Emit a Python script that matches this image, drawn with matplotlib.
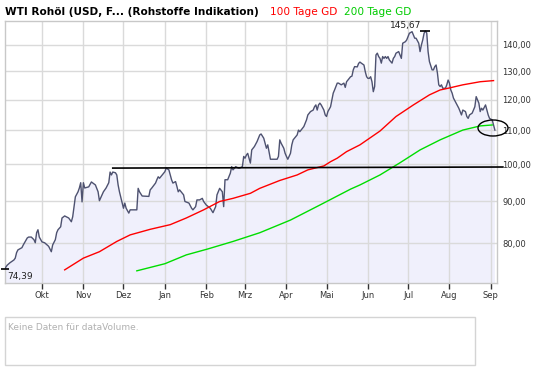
import matplotlib
matplotlib.use('Agg')
import matplotlib.pyplot as plt
from matplotlib.patches import Ellipse, Rectangle
from matplotlib.ticker import FixedLocator, FuncFormatter, NullLocator
import pandas as pd

# WTI price (daily-ish readings)
price_dates = [
    '2007-09-03', '2007-09-05', '2007-09-07', '2007-09-10', '2007-09-11', '2007-09-12',
    '2007-09-13', '2007-09-16', '2007-09-17', '2007-09-20', '2007-09-21', '2007-09-23',
    '2007-09-25', '2007-09-26', '2007-09-27', '2007-09-28', '2007-09-29',
    '2007-10-01', '2007-10-03', '2007-10-06', '2007-10-08', '2007-10-09', '2007-10-11',
    '2007-10-12', '2007-10-13', '2007-10-15', '2007-10-16', '2007-10-18', '2007-10-21',
    '2007-10-23', '2007-10-24', '2007-10-25', '2007-10-26', '2007-10-28', '2007-10-29',
    '2007-10-30', '2007-10-31',
    '2007-11-01', '2007-11-02', '2007-11-05', '2007-11-07', '2007-11-10', '2007-11-12',
    '2007-11-13', '2007-11-16', '2007-11-18', '2007-11-20', '2007-11-21', '2007-11-22',
    '2007-11-23', '2007-11-25', '2007-11-26', '2007-11-27', '2007-11-28', '2007-11-30',
    '2007-12-01', '2007-12-02', '2007-12-03', '2007-12-05', '2007-12-06', '2007-12-11',
    '2007-12-12', '2007-12-13', '2007-12-15', '2007-12-20', '2007-12-21', '2007-12-22',
    '2007-12-25', '2007-12-26', '2007-12-27', '2007-12-28', '2007-12-30',
    '2008-01-01', '2008-01-02', '2008-01-04', '2008-01-05', '2008-01-06', '2008-01-07',
    '2008-01-09', '2008-01-10', '2008-01-11', '2008-01-12', '2008-01-15', '2008-01-16',
    '2008-01-19', '2008-01-21', '2008-01-22', '2008-01-24', '2008-01-25', '2008-01-27',
    '2008-01-29', '2008-01-30',
    '2008-02-01', '2008-02-04', '2008-02-06', '2008-02-08', '2008-02-09', '2008-02-11',
    '2008-02-13', '2008-02-14', '2008-02-15', '2008-02-17', '2008-02-19', '2008-02-20',
    '2008-02-21', '2008-02-23', '2008-02-25', '2008-02-26', '2008-02-28', '2008-02-29',
    '2008-03-01', '2008-03-02', '2008-03-03', '2008-03-05', '2008-03-06', '2008-03-08',
    '2008-03-10', '2008-03-12', '2008-03-13', '2008-03-15', '2008-03-16', '2008-03-17',
    '2008-03-18', '2008-03-20', '2008-03-25', '2008-03-26', '2008-03-27', '2008-03-28',
    '2008-03-30', '2008-03-31',
    '2008-04-01', '2008-04-02', '2008-04-04', '2008-04-05', '2008-04-06', '2008-04-09',
    '2008-04-10', '2008-04-11', '2008-04-14', '2008-04-15', '2008-04-16', '2008-04-17',
    '2008-04-19', '2008-04-21', '2008-04-22', '2008-04-23', '2008-04-24', '2008-04-25',
    '2008-04-26', '2008-04-27', '2008-04-29', '2008-04-30',
    '2008-05-01', '2008-05-02', '2008-05-04', '2008-05-05', '2008-05-06', '2008-05-07',
    '2008-05-09', '2008-05-10', '2008-05-11', '2008-05-12', '2008-05-14', '2008-05-15',
    '2008-05-16', '2008-05-17', '2008-05-19', '2008-05-20', '2008-05-21', '2008-05-22',
    '2008-05-24', '2008-05-25', '2008-05-26', '2008-05-27', '2008-05-29', '2008-05-30',
    '2008-05-31',
    '2008-06-01', '2008-06-02', '2008-06-03', '2008-06-04', '2008-06-05', '2008-06-06',
    '2008-06-07', '2008-06-08', '2008-06-09', '2008-06-10', '2008-06-11', '2008-06-12',
    '2008-06-13', '2008-06-14', '2008-06-15', '2008-06-16', '2008-06-17', '2008-06-19',
    '2008-06-20', '2008-06-21', '2008-06-22', '2008-06-24', '2008-06-25', '2008-06-26',
    '2008-06-27', '2008-06-29', '2008-06-30',
    '2008-07-01', '2008-07-02', '2008-07-04', '2008-07-05', '2008-07-06', '2008-07-07',
    '2008-07-09', '2008-07-10', '2008-07-11', '2008-07-12', '2008-07-13', '2008-07-14',
    '2008-07-15', '2008-07-16', '2008-07-17', '2008-07-19', '2008-07-20', '2008-07-21',
    '2008-07-22', '2008-07-23', '2008-07-24', '2008-07-25', '2008-07-26', '2008-07-27',
    '2008-07-29', '2008-07-30', '2008-07-31',
    '2008-08-01', '2008-08-02', '2008-08-03', '2008-08-04', '2008-08-06', '2008-08-08',
    '2008-08-09', '2008-08-10', '2008-08-11', '2008-08-13', '2008-08-14', '2008-08-15',
    '2008-08-16', '2008-08-18', '2008-08-19', '2008-08-20', '2008-08-21', '2008-08-23',
    '2008-08-24', '2008-08-25', '2008-08-26', '2008-08-28', '2008-08-29', '2008-08-30',
    '2008-08-31', '2008-09-02', '2008-09-03', '2008-09-04',
]
price_values = [
    74.39, 75.2, 75.7, 76.3, 76.7, 77.9, 78.5, 79.0, 79.6, 81.2, 81.4, 81.4,
    80.8, 80.1, 82.4, 83.1, 81.4,
    80.3, 80.1, 79.3, 78.1, 79.6, 80.8, 82.4, 83.1, 83.8, 85.9, 86.4, 85.9,
    85.0, 86.2, 88.6, 91.2, 92.5, 93.5, 94.9, 89.9,
    94.9, 93.5, 93.8, 95.1, 94.3, 92.5, 90.2, 92.5, 93.5, 94.9, 97.8, 97.0,
    97.8, 97.6, 97.0, 94.3, 92.5, 89.6,
    88.3, 89.6, 88.3, 87.1, 87.9, 87.9, 93.4, 92.5, 91.4, 91.3, 93.0, 93.4,
    94.8, 95.7, 96.5, 96.1, 97.0,
    97.9, 98.9, 98.4, 97.0, 95.7, 94.8, 95.2, 93.9, 92.5, 93.0, 91.7, 90.0,
    89.6, 88.3, 87.9, 88.7, 90.4, 90.4, 90.8, 90.0,
    89.1, 88.3, 87.2, 88.7, 91.7, 93.4, 92.5, 88.7, 95.7, 95.7, 97.5, 99.3,
    98.4, 99.3, 98.9, 98.9, 99.3, 102.2,
    101.7, 102.6, 103.1, 100.3, 104.1, 105.1, 106.6, 108.6, 108.9, 107.6, 106.1, 104.6,
    105.6, 101.4, 101.4, 102.2, 107.1, 106.1, 104.6, 103.1,
    102.2, 101.4, 103.1, 105.6, 107.1, 108.6, 110.1, 109.6, 111.2, 112.2, 113.3, 114.9,
    116.0, 116.5, 117.6, 118.2, 116.5, 118.2, 118.8, 118.2, 116.5, 114.9,
    114.4, 116.0, 117.6, 119.9, 122.2, 123.3, 125.7, 125.7, 125.4, 125.1, 125.7, 124.2,
    126.2, 126.8, 128.0, 128.2, 130.5, 131.7, 131.6, 132.9, 133.4, 133.0, 132.3, 129.8,
    128.0,
    127.4, 127.4, 128.0, 126.2, 122.7, 124.5, 136.1, 136.8, 135.5, 134.8, 133.0, 135.5,
    134.8, 135.5, 134.8, 135.5, 134.2, 133.0, 134.8, 135.5, 136.8, 137.4, 136.1, 134.8,
    140.7, 141.3, 142.0,
    143.3, 144.7, 145.35, 144.0, 142.7, 142.7, 140.7, 137.4, 140.0, 142.0, 144.7, 145.67,
    144.8, 137.4, 133.6, 130.5, 130.5, 131.7, 132.3, 129.3, 125.1, 124.5, 125.1, 123.9,
    123.9, 125.1, 126.8,
    125.7, 123.3, 122.2, 120.5, 118.8, 117.1, 116.0, 114.9, 116.5, 116.0, 114.4, 113.8,
    114.9, 115.5, 116.5, 117.6, 121.0, 118.8, 116.0, 117.1, 116.5, 118.2, 116.5, 114.9,
    113.8, 113.3, 111.7, 110.1,
]

# 100 day moving average
ma100_dates = ['2007-10-18', '2007-11-01', '2007-11-13', '2007-11-26', '2007-12-06',
               '2007-12-21', '2008-01-05', '2008-01-17', '2008-01-30', '2008-02-11',
               '2008-02-21', '2008-03-05', '2008-03-12', '2008-03-27', '2008-04-09',
               '2008-04-17', '2008-04-29', '2008-05-04', '2008-05-09', '2008-05-16',
               '2008-05-26', '2008-06-10', '2008-06-22', '2008-07-05', '2008-07-17',
               '2008-07-25', '2008-07-31', '2008-08-11', '2008-08-24', '2008-09-03']
ma100_values = [74.2, 76.7, 78.1, 80.4, 81.9, 83.2, 84.3, 85.9, 87.9, 90.0,
                90.8, 92.1, 93.4, 95.5, 97.0, 98.4, 99.5, 100.7, 101.7, 103.6,
                105.6, 109.8, 114.4, 118.2, 121.6, 123.3, 123.9, 125.1, 126.2, 126.6]

# 200 day moving average
ma200_dates = ['2007-12-11', '2008-01-01', '2008-01-17', '2008-02-02', '2008-02-21',
               '2008-03-12', '2008-04-04', '2008-04-26', '2008-05-19', '2008-05-26',
               '2008-06-10', '2008-06-25', '2008-07-10', '2008-07-25', '2008-08-11',
               '2008-08-24', '2008-09-02']
ma200_values = [74.0, 75.5, 77.4, 78.7, 80.4, 82.4, 85.4, 89.1, 93.2, 94.3,
                97.0, 100.4, 104.1, 107.1, 110.1, 111.4, 111.7]

# hand drawn resistance line
line_dates = ['2007-11-23', '2008-09-10']
line_values = [98.9, 99.2]

month_starts = ['2007-10-01', '2007-11-01', '2007-12-01', '2008-01-01', '2008-02-01',
                '2008-03-01', '2008-04-01', '2008-05-01', '2008-06-01', '2008-07-01',
                '2008-08-01', '2008-09-01']
month_labels = ['Okt', 'Nov', 'Dez', 'Jan', 'Feb', 'Mrz', 'Apr', 'Mai', 'Jun', 'Jul',
                'Aug', 'Sep']
y_ticks = [80, 90, 100, 110, 120, 130, 140]

plt.rcParams['font.family'] = ['DejaVu Sans']


def de_fmt(v):
    return ('%.2f' % v).replace('.', ',')


pd_price = pd.to_datetime(price_dates)
pd_ma100 = pd.to_datetime(ma100_dates)
pd_ma200 = pd.to_datetime(ma200_dates)
pd_months = pd.to_datetime(month_starts)

W, H = 545, 370
fig = plt.figure(figsize=(W / 100, H / 100), dpi=100)
ax = fig.add_axes([5 / W, 1 - 283 / H, 492 / W, 262 / H])

ax.set_yscale('log')
ax.set_ylim(71.5, 149.8)
ax.set_xlim(pd.Timestamp('2007-09-03 08:00'), pd.Timestamp('2008-09-05 14:00'))

ax.fill_between(pd_price, price_values, 50, color='#f0f0fc', lw=0, zorder=0.3)
ax.plot(pd_price, price_values, color='#4e5270', lw=1, zorder=3)
ax.plot(pd_ma100, ma100_values, color='#ff0000', lw=1, zorder=3)
ax.plot(pd_ma200, ma200_values, color='#00dd00', lw=1, zorder=3)
ax.plot(pd.to_datetime(line_dates), line_values, color='black', lw=1.2,
        zorder=4, clip_on=False)

# high / low markers
hi = price_values.index(max(price_values))
lo = price_values.index(min(price_values))
ax.plot(pd_price[hi], price_values[hi], marker='_', ms=7, mew=1.2, color='black',
        zorder=5)
ax.annotate(de_fmt(price_values[hi]), (pd_price[hi], price_values[hi]),
            xytext=(-3, 0.5), textcoords='offset points', ha='right', va='bottom',
            fontsize=6.5, color='#222222')
ax.plot(pd_price[lo], price_values[lo], marker='_', ms=6, mew=1.2, color='black',
        zorder=5, clip_on=False)
ax.annotate(de_fmt(price_values[lo]), (pd_price[lo], price_values[lo]),
            xytext=(2, -2), textcoords='offset points', ha='left', va='top',
            fontsize=6.5, color='#222222')

ax.set_xticks(pd_months)
ax.set_xticklabels(month_labels)
ax.yaxis.set_major_locator(FixedLocator(y_ticks))
ax.yaxis.set_minor_locator(NullLocator())
ax.yaxis.set_major_formatter(FuncFormatter(lambda v, p: de_fmt(v)))
ax.yaxis.tick_right()
ax.tick_params(axis='y', length=0, pad=4, labelsize=6, labelcolor='#333333')
ax.tick_params(axis='x', length=4, width=1, color='#333333', pad=2, labelsize=6,
               labelcolor='#333333')

ax.set_axisbelow(True)
ax.grid(color='#dadada', lw=1)
for s in ax.spines.values():
    s.set_color('#c8c8c8')
    s.set_linewidth(1)

# header
fig.text(5 / W, 1 - 12 / H, 'WTI Rohöl (USD, F... (Rohstoffe Indikation)',
         fontsize=7.6, weight='bold', va='center', color='black')
fig.text(270 / W, 1 - 12 / H, '100 Tage GD', fontsize=7.6, va='center', color='#ff0000')
fig.text(344 / W, 1 - 12 / H, '200 Tage GD', fontsize=7.6, va='center', color='#00cc00')

# circle around the cross
fig.add_artist(Ellipse((493 / W, 1 - 128 / H), 30 / W, 16 / H,
                       transform=fig.transFigure, fill=False, ec='black', lw=1))

# empty volume panel
fig.add_artist(Rectangle((5 / W, 1 - 365 / H), 470 / W, 48 / H,
                         transform=fig.transFigure, fill=False, ec='#d4d4d4', lw=1))
fig.text(8 / W, 1 - 327 / H, 'Keine Daten für dataVolume.', fontsize=6.5,
         color='#b0b0b0', va='center')

fig.savefig('out.png', dpi=100, facecolor='white')
